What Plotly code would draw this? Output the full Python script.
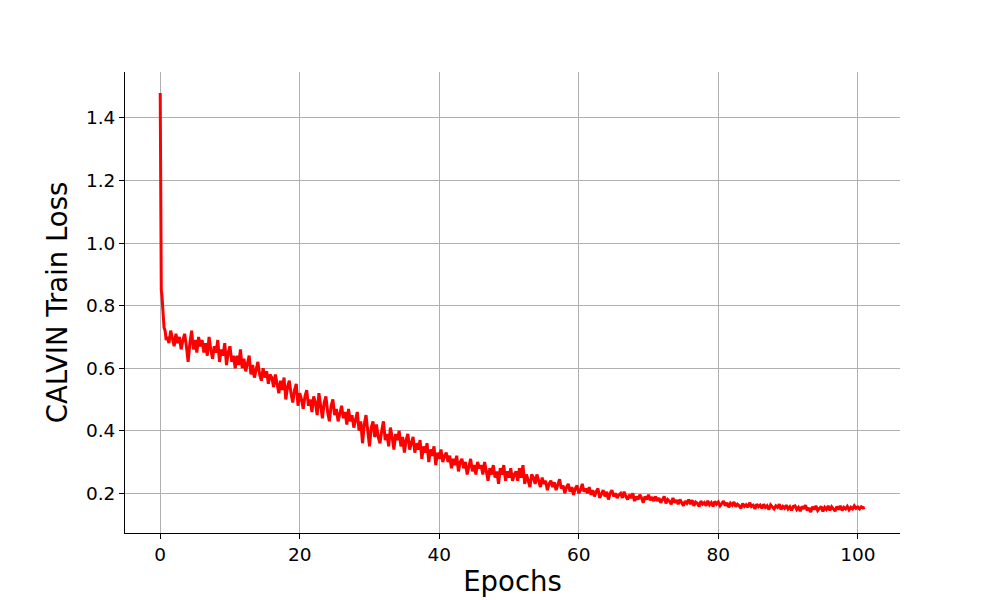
import plotly.graph_objects as go

# Initial fast-drop segment (epochs, loss)
start_epochs = [0.0, 0.05, 0.1, 0.15, 0.25, 0.35, 0.45, 0.55, 0.7, 0.85]
start_loss = [1.48, 1.15, 0.95, 0.85, 0.83, 0.80, 0.76, 0.73, 0.72, 0.69]

# Loss read every 0.25 epoch from 1.0 to 101.0
loss_quarter_epoch = [
    0.70, 0.68, 0.72, 0.69, 0.67, 0.71, 0.68, 0.70, 0.66, 0.69, 0.71, 0.67, 0.62, 0.68, 0.72, 0.66, 0.69, 0.65, 0.70, 0.67,
    0.69, 0.65, 0.68, 0.64, 0.70, 0.66, 0.63, 0.67, 0.65, 0.69, 0.62, 0.66, 0.64, 0.68, 0.61, 0.65, 0.67, 0.62, 0.64, 0.60,
    0.64, 0.61, 0.66, 0.60, 0.63, 0.59, 0.62, 0.64, 0.58, 0.61, 0.57, 0.60, 0.62, 0.58, 0.56, 0.60, 0.57, 0.59, 0.55, 0.58,
    0.57, 0.54, 0.58, 0.55, 0.52, 0.56, 0.53, 0.57, 0.50, 0.54, 0.56, 0.52, 0.49, 0.53, 0.55, 0.48, 0.52, 0.50, 0.47, 0.51,
    0.53, 0.48, 0.50, 0.46, 0.51, 0.49, 0.45, 0.52, 0.47, 0.44, 0.49, 0.51, 0.46, 0.43, 0.48, 0.50, 0.45, 0.47, 0.43, 0.46,
    0.48, 0.44, 0.46, 0.42, 0.47, 0.43, 0.45, 0.41, 0.44, 0.46, 0.40, 0.43, 0.36, 0.42, 0.45, 0.39, 0.35, 0.41, 0.43, 0.38,
    0.42, 0.38, 0.36, 0.40, 0.43, 0.37, 0.39, 0.35, 0.41, 0.38, 0.34, 0.39, 0.37, 0.40, 0.35, 0.38, 0.33, 0.37, 0.39, 0.34,
    0.36, 0.38, 0.33, 0.36, 0.34, 0.37, 0.31, 0.35, 0.33, 0.36, 0.30, 0.34, 0.32, 0.35, 0.29, 0.33, 0.31, 0.34, 0.30, 0.32,
    0.33, 0.30, 0.32, 0.28, 0.31, 0.29, 0.32, 0.27, 0.30, 0.31, 0.28, 0.30, 0.26, 0.29, 0.31, 0.27, 0.29, 0.26, 0.30, 0.28,
    0.29, 0.26, 0.30, 0.27, 0.24, 0.28, 0.26, 0.29, 0.25, 0.27, 0.23, 0.28, 0.26, 0.29, 0.24, 0.27, 0.25, 0.28, 0.24, 0.26,
    0.27, 0.24, 0.28, 0.25, 0.29, 0.23, 0.26, 0.24, 0.22, 0.26, 0.25, 0.23, 0.26, 0.24, 0.22, 0.25, 0.23, 0.24, 0.21, 0.23,
    0.24, 0.22, 0.235, 0.21, 0.23, 0.245, 0.215, 0.225, 0.20, 0.22, 0.23, 0.205, 0.22, 0.195, 0.215, 0.225, 0.20, 0.21, 0.23, 0.205,
    0.215, 0.20, 0.22, 0.195, 0.21, 0.19, 0.205, 0.215, 0.185, 0.20, 0.21, 0.19, 0.205, 0.18, 0.20, 0.21, 0.19, 0.20, 0.185, 0.195,
    0.20, 0.185, 0.205, 0.19, 0.18, 0.195, 0.185, 0.20, 0.175, 0.19, 0.18, 0.195, 0.185, 0.17, 0.19, 0.18, 0.195, 0.178, 0.188, 0.175,
    0.19, 0.175, 0.185, 0.17, 0.18, 0.19, 0.168, 0.18, 0.175, 0.165, 0.185, 0.17, 0.178, 0.165, 0.18, 0.172, 0.16, 0.175, 0.168, 0.18,
    0.165, 0.178, 0.16, 0.172, 0.168, 0.158, 0.175, 0.165, 0.17, 0.16, 0.176, 0.163, 0.17, 0.158, 0.174, 0.165, 0.172, 0.16, 0.168, 0.175,
    0.16, 0.17, 0.155, 0.168, 0.162, 0.172, 0.157, 0.165, 0.16, 0.152, 0.167, 0.158, 0.163, 0.155, 0.17, 0.158, 0.162, 0.15, 0.165, 0.157,
    0.162, 0.152, 0.165, 0.155, 0.16, 0.148, 0.163, 0.156, 0.15, 0.16, 0.155, 0.165, 0.148, 0.158, 0.152, 0.162, 0.15, 0.157, 0.145, 0.158,
    0.16, 0.148, 0.155, 0.143, 0.158, 0.15, 0.162, 0.145, 0.153, 0.14, 0.157, 0.148, 0.16, 0.145, 0.152, 0.158, 0.142, 0.155, 0.148, 0.16,
    0.145, 0.157, 0.15, 0.143, 0.158, 0.148, 0.16, 0.145, 0.155, 0.15, 0.158, 0.147, 0.155, 0.15, 0.16, 0.152, 0.156, 0.15, 0.157, 0.153,
    0.155,
]
quarter_epochs = [1.0 + 0.25 * i for i in range(len(loss_quarter_epoch))]

epochs = start_epochs + quarter_epochs
loss = start_loss + loss_quarter_epoch

x_ticks = [0, 20, 40, 60, 80, 100]
y_ticks = [0.2, 0.4, 0.6, 0.8, 1.0, 1.2, 1.4]

font = "DejaVu Sans"

fig = go.Figure()
fig.add_trace(go.Scatter(
    x=epochs, y=loss, mode="lines",
    line=dict(color="#ff0000", width=3),
    showlegend=False,
))

axis_common = dict(
    showline=True, linecolor="black", linewidth=1,
    ticks="outside", ticklen=5, tickwidth=1, tickcolor="black",
    showgrid=True, gridcolor="#b0b0b0", gridwidth=1,
    zeroline=False, automargin=False,
    tickfont=dict(family=font, size=18.5, color="black"),
    mirror=False,
)

fig.update_layout(
    width=1000, height=600,
    margin=dict(l=117, r=108, t=64, b=75),
    paper_bgcolor="white", plot_bgcolor="white",
    font=dict(family=font, color="black"),
    xaxis=dict(
        range=[-5.05, 106.05], tickvals=x_ticks,
        title=dict(text="Epochs", font=dict(family=font, size=27.5, color="black"), standoff=7),
        **axis_common,
    ),
    yaxis=dict(
        range=[0.073, 1.547], tickvals=y_ticks, tickformat=".1f",
        title=dict(text="CALVIN Train Loss", font=dict(family=font, size=27.5, color="black"), standoff=10),
        **axis_common,
    ),
)

fig.write_html("out.html")
